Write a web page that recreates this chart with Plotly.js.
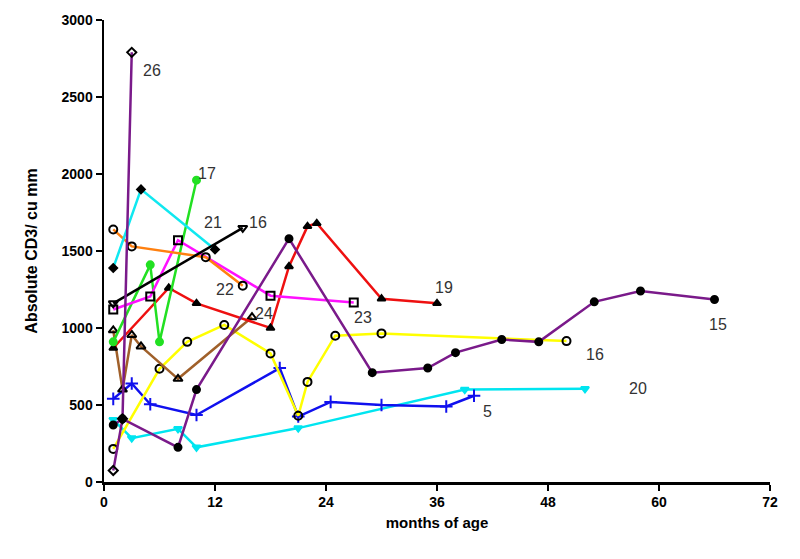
<!DOCTYPE html>
<html>
<head>
<meta charset="utf-8">
<script src="https://cdn.plot.ly/plotly-3.0.1.min.js"></script>
<style>
  body { margin: 0; background: #fff; }
  #chart { width: 800px; height: 559px; }
</style>
</head>
<body>
<div id="chart"></div>
<script>
'use strict';

// months of age / absolute CD3 per patient
const p15Months = [1, 2, 8, 10, 20, 29, 35, 38, 43, 47, 53, 58, 66];
const p15Cd3 = [370, 410, 225, 600, 1580, 710, 740, 840, 925, 910, 1170, 1240, 1185];

const p26Months = [1, 2, 3];
const p26Cd3 = [75, 410, 2790];

const p21Months = [1, 4, 12];
const p21Cd3 = [1390, 1900, 1510];

const p22Months = [1, 3, 11, 15];
const p22Cd3 = [1640, 1530, 1460, 1275];

const p23Months = [1, 5, 8, 18, 27];
const p23Cd3 = [1120, 1205, 1570, 1210, 1165];

const p16bMonths = [1, 15];
const p16bCd3 = [1160, 1650];

const p17Months = [1, 5, 6, 10];
const p17Cd3 = [910, 1410, 910, 1960];

const p19Months = [1, 7, 10, 18, 20, 22, 23, 30, 36];
const p19Cd3 = [870, 1260, 1160, 1000, 1400, 1660, 1680, 1190, 1160];

const p24Months = [1, 2, 3, 4, 8, 16];
const p24Cd3 = [985, 600, 955, 880, 670, 1070];

const p16yMonths = [1, 6, 9, 13, 18, 21, 22, 25, 30, 50];
const p16yCd3 = [215, 735, 910, 1020, 835, 430, 650, 950, 965, 915];

const p5Months = [1, 3, 5, 10, 19, 21, 24.5, 30, 37, 40];
const p5Cd3 = [540, 640, 505, 435, 740, 425, 520, 500, 490, 560];

const p20Months = [1, 3, 8, 10, 21, 39, 52];
const p20Cd3 = [405, 285, 345, 225, 350, 600, 605];

const labelText = ['26', '17', '21', '16', '22', '24', '23', '19', '15', '16', '20', '5'];
const labelMonths = [5.2, 11.1, 11.8, 16.6, 13.1, 17.3, 28, 36.8, 66.4, 53.1, 57.7, 41.5];
const labelCd3 = [2675, 2006, 1688, 1688, 1247, 1097, 1065, 1260, 1020, 831, 610, 455];

function series(x, y, lineColor, symbol, markerColor, size) {
  return {
    x, y,
    type: 'scatter',
    mode: 'lines+markers',
    line: {color: lineColor, width: 2.5},
    marker: {symbol, color: markerColor, size: size || 7, line: {color: markerColor, width: 2}},
    showlegend: false,
    hoverinfo: 'x+y'
  };
}

const data = [
  series(p20Months, p20Cd3, '#00e5f0', 'triangle-down', '#00e5f0', 7),
  series(p5Months, p5Cd3, '#1010ee', 'cross-thin-open', '#1010ee', 9),
  series(p16yMonths, p16yCd3, '#ffff00', 'circle-open', '#000', 8),
  series(p24Months, p24Cd3, '#a0602a', 'triangle-up-open', '#000', 8),
  series(p19Months, p19Cd3, '#ee1010', 'triangle-up', '#000', 7),
  series(p17Months, p17Cd3, '#22e022', 'circle', '#22e022', 7),
  series(p23Months, p23Cd3, '#ff10ff', 'square-open', '#000', 8),
  series(p22Months, p22Cd3, '#ff8010', 'circle-open', '#000', 8),
  series(p21Months, p21Cd3, '#10e8f0', 'diamond', '#000', 6),
  series(p16bMonths, p16bCd3, '#000', 'triangle-down-open', '#000', 8),
  series(p26Months, p26Cd3, '#7a1a8a', 'diamond-open', '#000', 7),
  series(p15Months, p15Cd3, '#7a1a8a', 'circle', '#000', 7)
];

const annotations = labelText.map((t, i) => ({
  x: labelMonths[i],
  y: labelCd3[i],
  text: t,
  showarrow: false,
  font: {family: 'Liberation Sans, Arial, sans-serif', size: 16, color: '#333'}
}));

const tickFont = {family: 'Liberation Sans, Arial, sans-serif', size: 14, color: '#000', weight: 'bold'};
const titleFont = {family: 'Liberation Sans, Arial, sans-serif', size: 15, color: '#000', weight: 'bold'};

const layout = {
  width: 800,
  height: 559,
  margin: {l: 104, r: 30, t: 20, b: 77},
  paper_bgcolor: '#fff',
  plot_bgcolor: '#fff',
  xaxis: {
    range: [0, 72],
    tickvals: [0, 12, 24, 36, 48, 60, 72],
    showgrid: false,
    zeroline: false,
    showline: true,
    linecolor: '#000',
    linewidth: 2.5,
    ticks: 'outside',
    ticklen: 6,
    tickwidth: 2,
    tickcolor: '#000',
    tickfont: tickFont,
    title: {text: 'months of age', font: titleFont, standoff: 8}
  },
  yaxis: {
    range: [0, 3000],
    tickvals: [0, 500, 1000, 1500, 2000, 2500, 3000],
    showgrid: false,
    zeroline: false,
    showline: true,
    linecolor: '#000',
    linewidth: 2.5,
    ticks: 'outside',
    ticklen: 6,
    tickwidth: 2,
    tickcolor: '#000',
    tickfont: tickFont,
    title: {text: 'Absolute CD3/ cu mm', font: {family: titleFont.family, size: 16, color: '#000', weight: 'bold'}, standoff: 20}
  },
  annotations
};

Plotly.newPlot('chart', data, layout, {displayModeBar: false, staticPlot: true});
</script>
</body>
</html>
